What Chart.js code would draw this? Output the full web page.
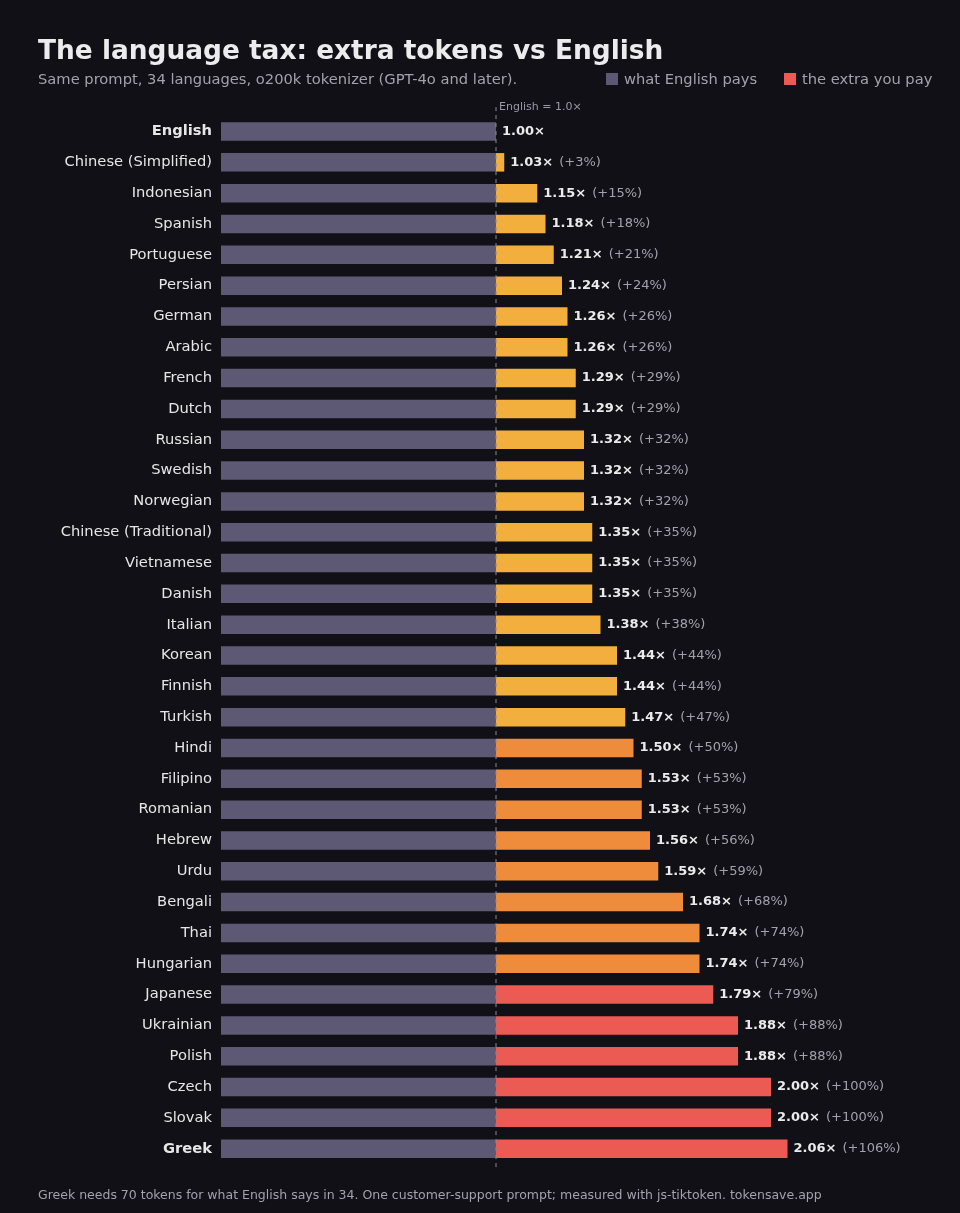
<!DOCTYPE html>
<html>
<head>
<meta charset="utf-8">
<script src="https://cdn.jsdelivr.net/npm/chart.js@4"></script>
<style>
  html, body { margin: 0; padding: 0; background: #111016; }
  #wrap { position: relative; width: 960px; height: 1213px; }
</style>
</head>
<body>
<div id="wrap"><canvas id="taxChart" width="960" height="1213"></canvas></div>
<script>
// token ratio vs English, o200k tokenizer
const languages = [
    'English', 'Chinese (Simplified)', 'Indonesian', 'Spanish', 'Portuguese', 'Persian',
    'German', 'Arabic', 'French', 'Dutch', 'Russian', 'Swedish', 'Norwegian',
    'Chinese (Traditional)', 'Vietnamese', 'Danish', 'Italian', 'Korean', 'Finnish',
    'Turkish', 'Hindi', 'Filipino', 'Romanian', 'Hebrew', 'Urdu', 'Bengali', 'Thai',
    'Hungarian', 'Japanese', 'Ukrainian', 'Polish', 'Czech', 'Slovak', 'Greek'
];
const ratios = [
    1.00, 1.03, 1.15, 1.18, 1.21, 1.24, 1.26, 1.26, 1.29, 1.29, 1.32, 1.32, 1.32,
    1.35, 1.35, 1.35, 1.38, 1.44, 1.44, 1.47, 1.50, 1.53, 1.53, 1.56, 1.59, 1.68,
    1.74, 1.74, 1.79, 1.88, 1.88, 2.00, 2.00, 2.06
];
const boldLanguages = ['English', 'Greek'];

const baseline = ratios.map(() => 1);
const extra = ratios.map(r => +(r - 1).toFixed(2));

const BASE_COLOR = '#5d5874';
function extraColor(r) {
    if (r >= 1.75) return '#eb5a53';
    if (r >= 1.5) return '#ef8c3b';
    return '#f2af3d';
}

const FONT = '"DejaVu Sans", sans-serif';

const decorations = {
    id: 'decorations',
    afterDatasetsDraw(chart) {
        const { ctx, chartArea, scales } = chart;
        const x1 = scales.x.getPixelForValue(1);

        // dashed English line
        ctx.save();
        ctx.strokeStyle = '#8a8898';
        ctx.lineWidth = 1;
        ctx.setLineDash([4, 4]);
        ctx.beginPath();
        ctx.moveTo(x1, chartArea.top - 9);
        ctx.lineTo(x1, chartArea.bottom + 6);
        ctx.stroke();
        ctx.setLineDash([]);
        ctx.fillStyle = '#9a98a6';
        ctx.font = '11px ' + FONT;
        ctx.textBaseline = 'middle';
        ctx.fillText('English = 1.0\u00d7', x1 + 3, chartArea.top - 9);

        // value labels
        const meta = chart.getDatasetMeta(1);
        meta.data.forEach((bar, i) => {
            const r = ratios[i];
            let x = bar.x + 6;
            if (extra[i] === 0) x = x1 + 6;
            const y = bar.y;
            ctx.font = 'bold 13px ' + FONT;
            ctx.fillStyle = '#ebebeb';
            const main = r.toFixed(2) + '\u00d7';
            ctx.fillText(main, x, y);
            if (extra[i] > 0) {
                const w = ctx.measureText(main).width;
                ctx.font = '13px ' + FONT;
                ctx.fillStyle = '#a3a1ad';
                ctx.fillText('(+' + Math.round(extra[i] * 100) + '%)', x + w + 6, y);
            }
        });

        // title, subtitle, legend, footer
        ctx.textBaseline = 'alphabetic';
        ctx.fillStyle = '#ececec';
        ctx.font = 'bold 26.4px ' + FONT;
        ctx.fillText('The language tax: extra tokens vs English', 38, 59);
        ctx.fillStyle = '#a3a1ad';
        ctx.font = '14.7px ' + FONT;
        ctx.fillText('Same prompt, 34 languages, o200k tokenizer (GPT-4o and later).', 38, 84);

        ctx.fillStyle = BASE_COLOR;
        ctx.fillRect(606, 73, 12, 12);
        ctx.fillStyle = '#a3a1ad';
        ctx.fillText('what English pays', 624, 84);
        ctx.fillStyle = '#eb5a53';
        ctx.fillRect(784, 73, 12, 12);
        ctx.fillStyle = '#a3a1ad';
        ctx.fillText('the extra you pay', 802, 84);

        ctx.font = '12.5px ' + FONT;
        ctx.fillText('Greek needs 70 tokens for what English says in 34. One customer-support prompt; measured with js-tiktoken. tokensave.app', 38, 1199);
        ctx.restore();
    }
};

new Chart(document.getElementById('taxChart'), {
    type: 'bar',
    data: {
        labels: languages,
        datasets: [
            {
                label: 'what English pays',
                data: baseline,
                backgroundColor: BASE_COLOR,
                categoryPercentage: 0.6,
                barPercentage: 1
            },
            {
                label: 'the extra you pay',
                data: extra,
                backgroundColor: ratios.map(extraColor),
                categoryPercentage: 0.6,
                barPercentage: 1
            }
        ]
    },
    options: {
        indexAxis: 'y',
        responsive: false,
        animation: false,
        layout: { padding: { top: 116.1, bottom: 48.9, left: 0, right: 24 } },
        plugins: {
            legend: { display: false },
            tooltip: { enabled: false }
        },
        scales: {
            x: {
                stacked: true,
                min: 0,
                max: 2.6,
                display: false
            },
            y: {
                stacked: true,
                grid: { display: false },
                border: { display: false },
                afterFit(scale) { scale.width = 221; },
                ticks: {
                    padding: 1,
                    color: '#e6e6e6',
                    font(c) {
                        const name = languages[c.index];
                        return {
                            family: FONT,
                            size: 14.7,
                            weight: boldLanguages.includes(name) ? 'bold' : 'normal'
                        };
                    }
                }
            }
        }
    },
    plugins: [decorations]
});
</script>
</body>
</html>
